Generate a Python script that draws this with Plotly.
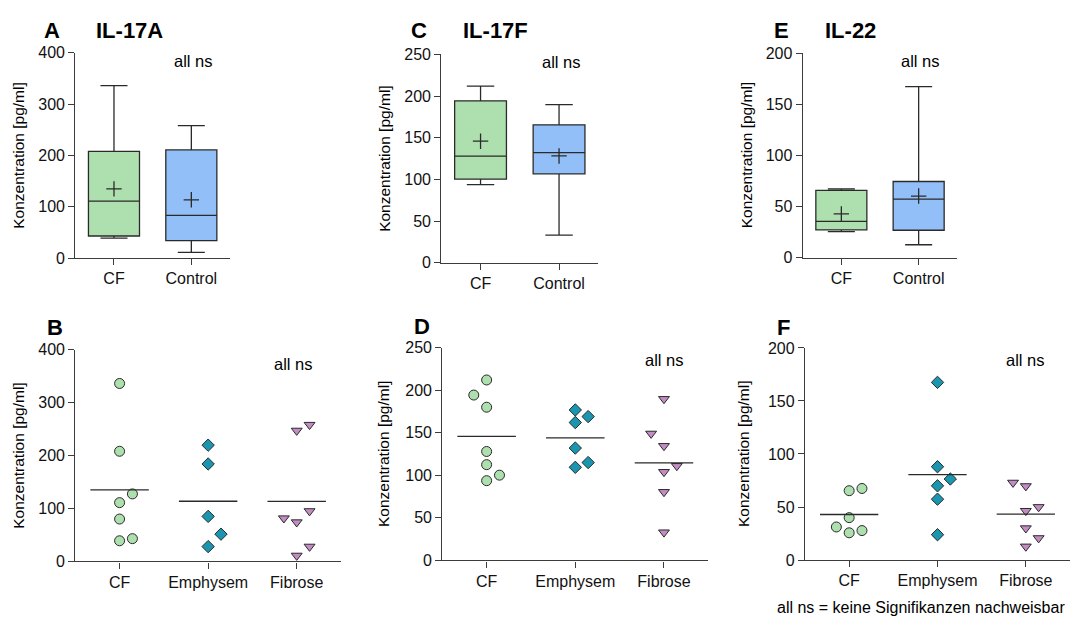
import numpy as np
import plotly.graph_objects as go

# ---------------- data ----------------
groups3 = ["CF", "Emphysem", "Fibrose"]
groups2 = ["CF", "Control"]

# IL-17A [pg/ml]
il17a_cf = [336, 208, 127.5, 111, 80, 43, 39]
il17a_emph = [219.5, 184, 85, 51.5, 28]
il17a_fib = [258, 247, 95, 81.5, 74, 28, 11]

# IL-17F [pg/ml]
il17f_cf = [212, 194.3, 180, 128, 112.5, 100.2, 93.7]
il17f_emph = [176.8, 169, 162, 132, 115, 109.4]
il17f_fib = [189.7, 149, 134.5, 111, 104, 80.5, 33]

# IL-22 [pg/ml]
il22_cf = [67.5, 65.4, 40, 31.2, 27.8, 25.7]
il22_emph = [167.5, 88, 76.4, 70, 57.4, 23.9]
il22_fib = [73, 69.7, 50, 46.4, 30, 20.7, 12.8]

yticks_a = [0, 100, 200, 300, 400]
yticks_c = [0, 50, 100, 150, 200, 250]
yticks_e = [0, 50, 100, 150, 200]

# lateral spread slots of the dot plots (-1 left, 0 centre, 1 right)
slots = {
    "B": [[0, 0, 1, 0, 0, 1, 0], [0, 0, 0, 1, 0], [1, 0, 1, -1, 0, 1, 0]],
    "D": [[0, -1, 0, 0, 0, 1, 0], [0, 1, 0, 0, 1, 0], [0, -1, 0, 1, 0, 0, 0]],
    "F": [[1, 0, 0, -1, 1, 0], [0, 0, 1, 0, 0, 0], [-1, 0, 1, 0, 0, 1, 0]],
}

# ---------------- style ----------------
W, H = 1084, 633
FONT = "Liberation Sans, Arial, sans-serif"
AXC = "#3c3c3c"
GREEN = "#aedfae"
BLUE = "#92bff7"
TEAL = "#1a96b0"
PINK = "#c48cc4"
EDGE = "#2a2a2a"
SPREAD = 0.145

def xd(a, b):
    return [a / W, b / W]

def yd(top, bottom):
    return [1 - bottom / H, 1 - top / H]

# panel pixel boxes: (x0, x1, ytop, ybottom)
boxes = {
    1: (75.3, 230.0, 46.0, 257.0),     # A
    2: (441.3, 598.3, 47.7, 261.7),    # C
    3: (802.7, 957.3, 46.7, 256.7),    # E
    4: (75.3, 341.0, 351.0, 568.7),    # B
    5: (442.3, 708.3, 349.0, 567.7),   # D
    6: (805.0, 1070.0, 349.3, 567.3),  # F
}
yranges = {1: (yticks_a, 400), 2: (yticks_c, 250), 3: (yticks_e, 200),
           4: (yticks_a, 400), 5: (yticks_c, 250), 6: (yticks_e, 200)}

fig = go.Figure()

def stats(vals):
    v = np.array(vals, dtype=float)
    q1, med, q3 = np.percentile(v, [25, 50, 75], method="weibull")
    return dict(q1=q1, med=med, q3=q3, lo=v.min(), hi=v.max(), mean=v.mean())

# ---- top row: box plots ----
top = [(1, il17a_cf, il17a_emph + il17a_fib),
       (2, il17f_cf, il17f_emph + il17f_fib),
       (3, il22_cf, il22_emph + il22_fib)]
for n, cf, ctrl in top:
    xa = "x" if n == 1 else f"x{n}"
    ya = "y" if n == 1 else f"y{n}"
    for i, (vals, col) in enumerate([(cf, GREEN), (ctrl, BLUE)]):
        s = stats(vals)
        fig.add_trace(go.Box(
            x=[i], q1=[s["q1"]], median=[s["med"]], q3=[s["q3"]],
            lowerfence=[s["lo"]], upperfence=[s["hi"]],
            width=0.66, whiskerwidth=0.53, fillcolor=col,
            line=dict(color=EDGE, width=1.3), boxpoints=False,
            xaxis=xa, yaxis=ya, showlegend=False, hoverinfo="skip"))
        fig.add_trace(go.Scatter(
            x=[i], y=[s["mean"]], mode="markers",
            marker=dict(symbol="cross-thin", size=11,
                        line=dict(color=EDGE, width=1.3)),
            xaxis=xa, yaxis=ya, showlegend=False, hoverinfo="skip"))

# ---- bottom row: dot plots with mean line ----
bottom = [(4, "B", [il17a_cf, il17a_emph, il17a_fib]),
          (5, "D", [il17f_cf, il17f_emph, il17f_fib]),
          (6, "F", [il22_cf, il22_emph, il22_fib])]
mstyles = [dict(symbol="circle", size=10, color=GREEN),
           dict(symbol="diamond", size=9.5, color=TEAL),
           dict(symbol="triangle-down", size=9.5, color=PINK)]
for n, key, sets in bottom:
    xa, ya = f"x{n}", f"y{n}"
    for i, vals in enumerate(sets):
        xs = [i + SPREAD * s for s in slots[key][i]]
        ms = mstyles[i]
        fig.add_trace(go.Scatter(
            x=xs, y=vals, mode="markers", cliponaxis=False,
            marker=dict(symbol=ms["symbol"], size=ms["size"], color=ms["color"],
                        line=dict(color=EDGE, width=1)),
            xaxis=xa, yaxis=ya, showlegend=False, hoverinfo="skip"))
        m = float(np.mean(vals))
        fig.add_trace(go.Scatter(
            x=[i - 0.33, i + 0.33], y=[m, m], mode="lines",
            line=dict(color=EDGE, width=1.3),
            xaxis=xa, yaxis=ya, showlegend=False, hoverinfo="skip"))

# ---- axes ----
layout = dict(width=W, height=H, margin=dict(l=0, r=0, t=0, b=0),
              paper_bgcolor="white", plot_bgcolor="white",
              font=dict(family=FONT, color="#111111", size=16))
for n, (x0, x1, yt, yb) in boxes.items():
    sfx = "" if n == 1 else str(n)
    ticks, ymax = yranges[n]
    cats = groups2 if n <= 3 else groups3
    common = dict(showline=True, linecolor=AXC, linewidth=1.3,
                  ticks="outside", ticklen=6, tickwidth=1.3, tickcolor=AXC,
                  showgrid=False, zeroline=False, fixedrange=True,
                  tickfont=dict(size=16, family=FONT, color="#111111"))
    layout["xaxis" + sfx] = dict(domain=xd(x0, x1), anchor="y" + sfx,
                                 range=[-0.5, len(cats) - 0.5],
                                 tickvals=list(range(len(cats))), ticktext=cats,
                                 **common)
    layout["yaxis" + sfx] = dict(domain=yd(yt, yb), anchor="x" + sfx,
                                 range=[0, ymax], tickvals=ticks, **common)
fig.update_layout(**layout)

# ---- texts ----
ann = []
def txt(x, y, s, size, bold=False, xanchor="center", angle=0):
    ann.append(dict(x=x / W, y=1 - y / H, xref="paper", yref="paper",
                    text=f"<b>{s}</b>" if bold else s, showarrow=False,
                    xanchor=xanchor, yanchor="middle", textangle=angle,
                    font=dict(size=size, family=FONT, color="#000000")))

# panel letters and titles
for x, y, s in [(42, 23, "A"), (409, 23, "C"), (772, 23, "E"),
                (45, 328, "B"), (412, 327, "D"), (775, 328, "F")]:
    txt(x, y, s, 22, bold=True, xanchor="left")
for x, y, s in [(94, 23, "IL-17A"), (460.5, 23, "IL-17F"), (822.5, 23, "IL-22")]:
    txt(x, y, s, 22, bold=True, xanchor="left")

# "all ns"
for x, y in [(193, 54), (561, 55), (920.5, 54.5),
             (293.5, 365.5), (664, 362), (1025.5, 362)]:
    txt(x, y, "all ns", 16.5)

# y-axis titles
for n, xc in [(1, 18.3), (2, 384.3), (3, 746.7), (4, 18.3), (5, 383), (6, 744)]:
    x0, x1, yt, yb = boxes[n]
    txt(xc, (yt + yb) / 2, "Konzentration [pg/ml]", 15.5, angle=-90)

txt(775, 616, "all ns = keine Signifikanzen nachweisbar", 16, xanchor="left")

fig.update_layout(annotations=ann)
fig.write_html("out.html")
